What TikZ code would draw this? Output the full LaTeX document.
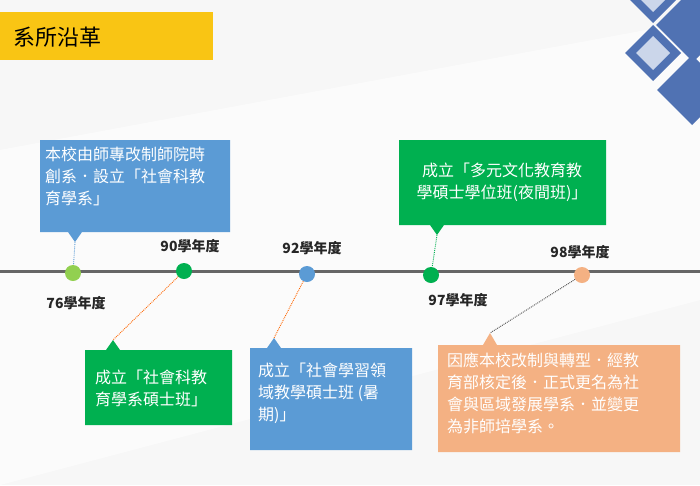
\documentclass[tikz,border=0pt]{standalone}
\usepackage{fontspec}
\setmainfont{Noto Sans CJK TC}
\definecolor{dblue}{HTML}{5072B3}
\definecolor{lblue}{HTML}{CBD6EA}
\definecolor{cblue}{HTML}{5B9BD5}
\definecolor{cgreen}{HTML}{00B050}
\definecolor{lgreen}{HTML}{92D050}
\definecolor{salmon}{HTML}{F4B183}
\definecolor{ttl}{HTML}{F9C514}
\begin{document}
\begin{tikzpicture}[x=1pt,y=-1pt,
  box/.style={inner sep=0pt,text=white,font=\fontsize{16}{22}\selectfont,align=left},
  yr/.style={font=\fontsize{14}{16}\selectfont\bfseries,text=black!85},
  dot/.style={circle,inner sep=0pt,minimum size=16pt},
  dl/.style={densely dotted,line width=0.9pt}]
\useasboundingbox (0,0) rectangle (700,485);
\fill[gray!6] (0,0) rectangle (700,485);
\fill[white,opacity=0.6] (0,150) -- (700,20) -- (700,300) -- (0,485) -- cycle;
% diamonds
\fill[dblue] (653,-33) -- (681,-5) -- (653,23) -- (625,-5) -- cycle;
\fill[lblue] (653,-22) -- (670,-5) -- (653,12) -- (636,-5) -- cycle;
\fill[dblue] (693,-12) -- (730,25) -- (693,62) -- (656,25) -- cycle;
\fill[dblue] (653,25) -- (681,53) -- (653,81) -- (625,53) -- cycle;
\fill[lblue] (653,36) -- (670,53) -- (653,70) -- (636,53) -- cycle;
\fill[dblue] (692,55) -- (727,90) -- (692,125) -- (657,90) -- cycle;
% title
\fill[ttl] (0,12) rectangle (213,60);
\node[anchor=west,font=\fontsize{22}{24}\selectfont] (title) at (10,37) {系所沿革};
% timeline
\draw[line width=3pt,gray!80!black] (0,271) -- (700,271);
\node[dot,fill=lgreen] (d76) at (73,273) {};
\node[dot,fill=cgreen] (d90) at (184,271) {};
\node[dot,fill=cblue] (d92) at (307,274) {};
\node[dot,fill=cgreen] (d97) at (431,275) {};
\node[dot,fill=salmon] (d98) at (582,275) {};
\node[yr] (y76) at (76,303) {76學年度};
\node[yr] (y90) at (190,246) {90學年度};
\node[yr] (y92) at (312,248) {92學年度};
\node[yr] (y97) at (458,300) {97學年度};
\node[yr] (y98) at (580,252) {98學年度};
% boxes
\fill[cblue] (40,140) rectangle (230,232) (68,232) -- (82,232) -- (75,242) -- cycle;
\coordinate (p76) at (75,242);
\node[box,anchor=north west] (b76) at (45,147) {本校由師專改制師院時\\創系．設立「社會科教\\育學系」};
\fill[cgreen] (399,140) rectangle (606,225) (430,225) -- (444,225) -- (437,235) -- cycle;
\coordinate (p97) at (437,235);
\node[box,align=center] (b97) at (502,182) {成立「多元文化教育教\\學碩士學位班(夜間班)」};
\fill[cgreen] (85,350) rectangle (232,425) (106,350) -- (120,350) -- (113,340) -- cycle;
\coordinate (p90) at (113,340);
\node[box,anchor=west] (b90) at (95,388) {成立「社會科教\\育學系碩士班」};
\fill[cblue] (250,348) rectangle (412,450) (267,348) -- (281,348) -- (274,338) -- cycle;
\coordinate (p92) at (274,338);
\node[box,anchor=north west] (b92) at (258,363) {成立「社會學習領\\域教學碩士班 (暑\\期)」};
\fill[salmon] (438,345) rectangle (680,452) (483,345) -- (497,345) -- (490,333) -- cycle;
\coordinate (p98) at (490,333);
\node[box,anchor=north west] (b98) at (447,353) {因應本校改制與轉型．經教\\育部核定後．正式更名為社\\會與區域發展學系．並變更\\為非師培學系。};
% connectors
\draw[dl,cblue] (p76) -- (d76);
\draw[dl,orange!80!red] (d90) -- (p90);
\draw[dl,orange!80!red] (d92) -- (p92);
\draw[dl,cgreen] (p97) -- (d97);
\draw[dl,gray!60!black] (d98) -- (p98);
\end{tikzpicture}
\end{document}
